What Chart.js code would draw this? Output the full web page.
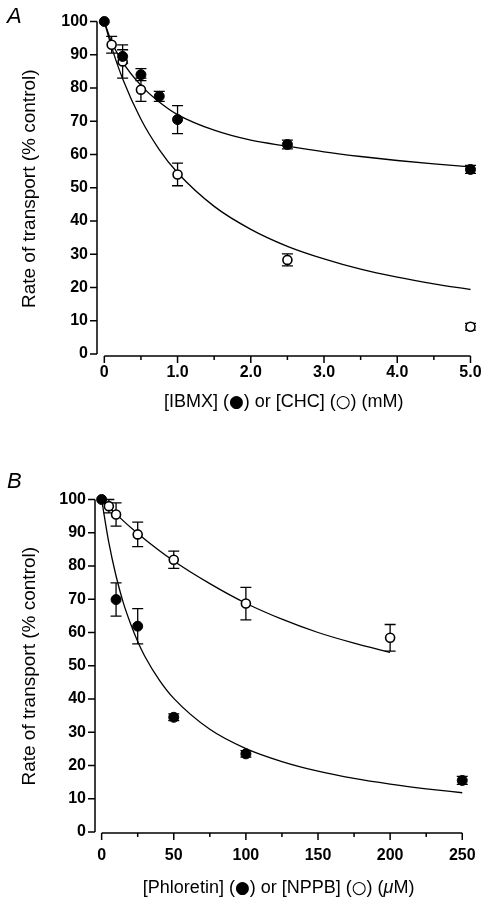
<!DOCTYPE html>
<html>
<head>
<meta charset="utf-8">
<title>Rate of transport</title>
<script src="https://cdn.jsdelivr.net/npm/chart.js@4.4.1/dist/chart.umd.min.js"></script>
<style>
    body {
        margin: 0;
        background: #fff;
        width: 489px;
        height: 912px;
        position: relative;
        overflow: hidden;
    }
    .panel {
        position: absolute;
        left: 0;
        width: 489px;
        height: 456px;
    }
    .letter {
        position: absolute;
        left: 7px;
        font: italic 22px "Liberation Sans", Arial, sans-serif;
        line-height: 1;
        color: #000;
    }
</style>
</head>
<body>

<div class="panel" style="top:0"><canvas id="chartA"></canvas></div>
<div class="panel" style="top:456px"><canvas id="chartB"></canvas></div>
<div class="letter" style="top:5px">A</div>
<div class="letter" style="top:470px">B</div>

<script>

// =========================================
// Data - panel A (mM)
// =========================================

const ibmxDose = [0, 0.25, 0.5, 0.75, 1.0, 2.5, 5.0];
const ibmxRate = [100, 89.5, 84, 77.5, 70.5, 63, 55.5];
const ibmxErr = [0, 2, 1.8, 1.5, 4.2, 1.3, 1.2];

const chcDose = [0.1, 0.25, 0.5, 1.0, 2.5, 5.0];
const chcRate = [93, 88, 79.5, 54, 28.3, 8.2];
const chcErr = [2.5, 5, 3.5, 3.4, 1.8, 1];

const fitDoseA = [0, 0.1, 0.25, 0.5, 0.75, 1, 1.5, 2, 2.5, 3, 3.5, 4, 4.5, 5];
const ibmxFit = [100, 93.8, 87.8, 80.8, 75.8, 72, 67.3, 64.3, 62.5, 60.8, 59.4, 58.2, 57.2, 56.3];
const chcFit = [100, 92.3, 82.8, 70.6, 61.5, 54.5, 44.4, 37.5, 32.4, 28.6, 25.5, 23.1, 21.1, 19.4];

// =========================================
// Data - panel B (uM)
// =========================================

const phlDose = [0, 10, 25, 50, 100, 250];
const phlRate = [100, 69.9, 61.9, 34.5, 23.5, 15.5];
const phlErr = [0, 5, 5.3, 1, 1, 1.2];

const nppbDose = [5, 10, 25, 50, 100, 200];
const nppbRate = [98, 95.5, 89.5, 81.9, 68.7, 58.4];
const nppbErr = [2, 3.5, 3.7, 2.6, 4.9, 4];

const phlFitDose = [0, 5, 10, 15, 20, 25, 30, 40, 50, 75, 100, 125, 150, 175, 200, 225, 250];
const phlFit = [100, 87, 77, 69, 62.7, 57.3, 52.8, 45.7, 40.2, 30.9, 25.1, 21.2, 18.3, 16.1, 14.4, 13, 11.8];

const nppbFitDose = [0, 10, 25, 50, 75, 100, 125, 150, 175, 200];
const nppbFit = [100, 95.6, 89.8, 81.5, 74.7, 68.8, 64, 60, 56.8, 54];

// =========================================
// Ticks
// =========================================

const rateTicks = [0, 10, 20, 30, 40, 50, 60, 70, 80, 90, 100];

const doseTicksA = [0, 1, 2, 3, 4, 5];
const doseMinorA = [0.5, 1.5, 2.5, 3.5, 4.5];

const doseTicksB = [0, 50, 100, 150, 200, 250];
const doseMinorB = [25, 75, 125, 175, 225];


const FONT = '"Liberation Sans", Arial, "DejaVu Sans", sans-serif';

const TXT = '18px "Liberation Sans", Arial, sans-serif';
const SYM = '17px "DejaVu Sans", sans-serif';
const ITAL = 'italic 18px "Liberation Sans", Arial, sans-serif';

function pairs(xs, ys) {
    return xs.map((x, i) => ({ x: x, y: ys[i] }));
}


// =========================================
// Axes + error bars + x title plugin
// =========================================

const axesPlugin = {

    id: "axesAndErrors",

    beforeDatasetsDraw(chart, args, opts) {

        const ctx = chart.ctx;
        const area = chart.chartArea;
        const x = chart.scales.x;
        const y = chart.scales.y;

        ctx.save();
        ctx.strokeStyle = "#000";
        ctx.lineWidth = 1.5;
        ctx.beginPath();

        // y axis
        ctx.moveTo(area.left, y.getPixelForValue(100));
        ctx.lineTo(area.left, y.getPixelForValue(0));

        rateTicks.forEach(v => {
            const p = y.getPixelForValue(v);
            ctx.moveTo(area.left - 7, p);
            ctx.lineTo(area.left, p);
        });

        // x axis
        const xs = opts.major;
        ctx.moveTo(x.getPixelForValue(xs[0]), area.bottom);
        ctx.lineTo(x.getPixelForValue(xs[xs.length - 1]), area.bottom);

        xs.forEach(v => {
            const p = x.getPixelForValue(v);
            ctx.moveTo(p, area.bottom);
            ctx.lineTo(p, area.bottom + 7);
        });

        opts.minor.forEach(v => {
            const p = x.getPixelForValue(v);
            ctx.moveTo(p, area.bottom);
            ctx.lineTo(p, area.bottom + 4);
        });

        ctx.stroke();

        // error bars
        ctx.lineWidth = 1.3;
        ctx.beginPath();

        chart.data.datasets.forEach(ds => {

            if (!ds.errors) return;

            ds.data.forEach((pt, i) => {

                const e = ds.errors[i];
                if (!e) return;

                const px = x.getPixelForValue(pt.x);
                const hi = y.getPixelForValue(pt.y + e);
                const lo = y.getPixelForValue(pt.y - e);

                ctx.moveTo(px, hi);
                ctx.lineTo(px, lo);
                ctx.moveTo(px - 5.5, hi);
                ctx.lineTo(px + 5.5, hi);
                ctx.moveTo(px - 5.5, lo);
                ctx.lineTo(px + 5.5, lo);

            });

        });

        ctx.stroke();
        ctx.restore();

    },

    // x title in pieces, so the circle symbols get their own font
    afterDraw(chart, args, opts) {

        const ctx = chart.ctx;
        const area = chart.chartArea;

        ctx.save();
        ctx.fillStyle = "#000";
        ctx.textBaseline = "alphabetic";
        ctx.textAlign = "left";

        let total = 0;

        opts.title.forEach(p => {
            ctx.font = p[1];
            total += ctx.measureText(p[0]).width;
        });

        let cx = (area.left + area.right) / 2 - total / 2;

        opts.title.forEach(p => {
            ctx.font = p[1];
            ctx.fillText(p[0], cx, opts.titleBase);
            cx += ctx.measureText(p[0]).width;
        });

        ctx.restore();

    }

};


// =========================================
// Build one panel
// =========================================

function buildPanel(id, s) {

    const filled = {
        data: pairs(s.filledX, s.filledY),
        errors: s.filledErr,
        pointRadius: 5,
        pointBackgroundColor: "#000",
        pointBorderColor: "#000",
        pointBorderWidth: 1,
        showLine: false,
        clip: false
    };

    const open = {
        data: pairs(s.openX, s.openY),
        errors: s.openErr,
        pointRadius: 4.5,
        pointBackgroundColor: "#fff",
        pointBorderColor: "#000",
        pointBorderWidth: 1.6,
        showLine: false,
        clip: false
    };

    const fitLine = (xs, ys) => ({
        data: pairs(xs, ys),
        showLine: true,
        pointRadius: 0,
        borderColor: "#000",
        borderWidth: 1.3,
        cubicInterpolationMode: "monotone",
        clip: false
    });

    return new Chart(document.getElementById(id), {

        type: "scatter",

        data: {
            datasets: [
                filled,
                open,
                fitLine(s.fitAX, s.fitAY),
                fitLine(s.fitBX, s.fitBY)
            ]
        },

        options: {

            responsive: true,
            maintainAspectRatio: false,
            animation: false,
            events: [],

            layout: {
                padding: s.padding
            },

            plugins: {
                legend: { display: false },
                tooltip: { enabled: false },
                axesAndErrors: {
                    major: s.xTicks,
                    minor: s.xMinor,
                    title: s.xTitle,
                    titleBase: s.titleBase
                }
            },

            scales: {

                x: {
                    type: "linear",
                    bounds: "data",
                    min: s.xMin,
                    max: s.xMax,
                    grid: { display: false, drawTicks: false },
                    border: { display: false },
                    afterBuildTicks: scale => {
                        scale.ticks = s.xTicks.map(v => ({ value: v }));
                    },
                    afterFit: scale => {
                        scale.height = s.xHeight;
                    },
                    ticks: {
                        color: "#000",
                        font: { family: FONT, size: 16, weight: "bold" },
                        padding: s.xPad,
                        maxRotation: 0,
                        autoSkip: false,
                        callback: s.xLabel
                    },
                    title: { display: false }
                },

                y: {
                    type: "linear",
                    bounds: "data",
                    min: s.yMin,
                    max: 100,
                    grid: { display: false, drawTicks: false },
                    border: { display: false },
                    afterBuildTicks: scale => {
                        scale.ticks = rateTicks.map(v => ({ value: v }));
                    },
                    afterFit: scale => {
                        scale.width = s.yWidth;
                    },
                    ticks: {
                        color: "#000",
                        font: { family: FONT, size: 16, weight: "bold" },
                        padding: 9,
                        autoSkip: false
                    },
                    title: {
                        display: true,
                        text: "Rate of transport (% control)",
                        color: "#000",
                        font: { family: FONT, size: 19 },
                        padding: 0
                    }
                }

            }

        },

        plugins: [axesPlugin]

    });

}


// =========================================
// Panels
// =========================================

buildPanel("chartA", {
    filledX: ibmxDose, filledY: ibmxRate, filledErr: ibmxErr,
    openX: chcDose, openY: chcRate, openErr: chcErr,
    fitAX: fitDoseA, fitAY: ibmxFit,
    fitBX: fitDoseA, fitBY: chcFit,
    xTicks: doseTicksA,
    xMinor: doseMinorA,
    xMin: -0.1,
    xMax: 5,
    yMin: -0.6,
    xLabel: v => (v === 0 ? "0" : v.toFixed(1)),
    xTitle: [
        ["[IBMX] (", TXT], ["\u25CF", SYM], [") or [CHC] (", TXT],
        ["\u25CB", SYM], [") (mM)", TXT]
    ],
    titleBase: 406.5,
    padding: { left: 18.6, right: 18.3, top: 21.5, bottom: 45.2 },
    yWidth: 78.4,
    xHeight: 54.8,
    xPad: 7.4
});

buildPanel("chartB", {
    filledX: phlDose, filledY: phlRate, filledErr: phlErr,
    openX: nppbDose, openY: nppbRate, openErr: nppbErr,
    fitAX: phlFitDose, fitAY: phlFit,
    fitBX: nppbFitDose, fitBY: nppbFit,
    xTicks: doseTicksB,
    xMinor: doseMinorB,
    xMin: -4.6,
    xMax: 250,
    yMin: -0.3,
    xLabel: v => String(v),
    xTitle: [
        ["[Phloretin] (", TXT], ["\u25CF", SYM], [") or [NPPB] (", TXT],
        ["\u25CB", SYM], [") (", TXT], ["\u03BC", ITAL], ["M)", TXT]
    ],
    titleBase: 437,
    padding: { left: 18.6, right: 22.3, top: 43.5, bottom: 14.5 },
    yWidth: 76.4,
    xHeight: 64.5,
    xPad: 13.4
});

</script>
</body>
</html>
